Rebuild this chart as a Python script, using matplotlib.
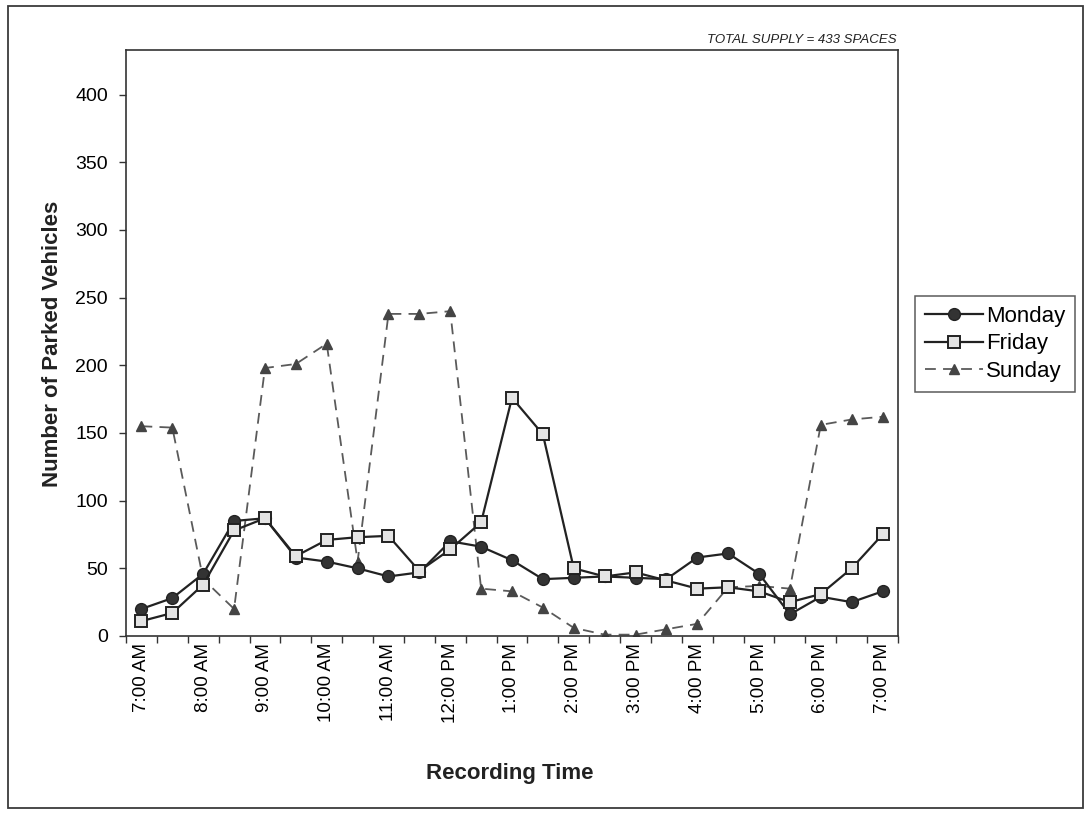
import matplotlib
matplotlib.use("Agg")
import matplotlib.pyplot as plt
from matplotlib.patches import Rectangle

plt.rcParams['font.family'] = ['Liberation Sans', 'DejaVu Sans']

# Half-hourly survey times
times = ["7:00 AM", "7:30 AM", "8:00 AM", "8:30 AM", "9:00 AM", "9:30 AM",
         "10:00 AM", "10:30 AM", "11:00 AM", "11:30 AM", "12:00 PM", "12:30 PM",
         "1:00 PM", "1:30 PM", "2:00 PM", "2:30 PM", "3:00 PM", "3:30 PM",
         "4:00 PM", "4:30 PM", "5:00 PM", "5:30 PM", "6:00 PM", "6:30 PM", "7:00 PM"]

monday = [20, 28, 46, 85, 87, 58, 55, 50, 44, 47, 70, 66, 56,
          42, 43, 44, 43, 42, 58, 61, 46, 16, 29, 25, 33]
friday = [11, 17, 38, 78, 87, 59, 71, 73, 74, 48, 64, 84, 176,
          149, 50, 44, 47, 41, 35, 36, 33, 25, 31, 50, 75]
sunday = [155, 154, 42, 20, 198, 201, 216, 55, 238, 238, 240, 35, 33,
          21, 6, 1, 1, 5, 9, 36, 37, 35, 156, 160, 162]

total_supply = 433
y_ticks = [0, 50, 100, 150, 200, 250, 300, 350, 400]

W, H = 1086, 814
fig = plt.figure(figsize=(W / 100, H / 100), dpi=100)
fig.patch.set_facecolor('white')

# Outer frame around the whole exhibit
fig.patches.append(Rectangle((8 / W, 1 - 808 / H), (1083 - 8) / W, (808 - 6) / H,
                             transform=fig.transFigure, fill=False,
                             edgecolor='#3a3a3a', linewidth=1.3))

left, right, bottom, top = 126 / W, 898 / W, 1 - 636 / H, 1 - 50 / H
ax = fig.add_axes([left, bottom, right - left, top - bottom])

x = list(range(len(times)))
ax.plot(x, monday, color='#222222', linewidth=1.6, marker='o', markersize=8.5,
        markerfacecolor='#333333', markeredgecolor='#222222', label='Monday', zorder=3)
ax.plot(x, friday, color='#222222', linewidth=1.6, marker='s', markersize=8.5,
        markerfacecolor='#e4e4e4', markeredgecolor='#222222', markeredgewidth=1.4,
        label='Friday', zorder=4)
ax.plot(x, sunday, color='#5a5a5a', linewidth=1.3, linestyle=(0, (6, 4)),
        marker='^', markersize=7, markerfacecolor='#444444', markeredgecolor='#444444',
        label='Sunday', zorder=2)

ax.set_xlim(-0.5, len(times) - 0.5)
ax.set_ylim(0, total_supply)

# Tick marks between categories, labels on every other category
ax.set_xticks([i - 0.5 for i in range(len(times) + 1)])
ax.set_xticklabels([])
ax.set_xticks(x[::2], minor=True)
ax.set_xticklabels(times[::2], minor=True, rotation=90, fontsize=13.5)
ax.tick_params(axis='x', which='major', direction='out', length=5, width=1, color='#333333')
ax.tick_params(axis='x', which='minor', length=0, pad=5)

ax.set_yticks(y_ticks)
ax.set_yticklabels([str(v) for v in y_ticks], fontsize=14)
ax.tick_params(axis='y', direction='out', length=5, width=1, color='#333333', pad=8)

for s in ax.spines.values():
    s.set_color('#333333')
    s.set_linewidth(1.2)

fig.text(53 / W, 1 - 344 / H, 'Number of Parked Vehicles', rotation=90,
         ha='center', va='center', fontsize=16, fontweight='bold', color='#222222')
fig.text(510 / W, 1 - 773 / H, 'Recording Time', ha='center', va='center',
         fontsize=16, fontweight='bold', color='#222222')
fig.text(897 / W, 1 - 40 / H, 'TOTAL SUPPLY = 433 SPACES', ha='right', va='center',
         fontsize=9.5, fontstyle='italic', color='#222222')

leg = fig.legend(loc='center left', bbox_to_anchor=(915 / W, 1 - 344 / H),
                 fontsize=16, frameon=True, fancybox=False, handlelength=2.6,
                 borderpad=0.45, labelspacing=0.28, handletextpad=0.15,
                 borderaxespad=0)
leg.get_frame().set_edgecolor('#333333')
leg.get_frame().set_linewidth(1.1)

fig.savefig('out.png', dpi=100)
